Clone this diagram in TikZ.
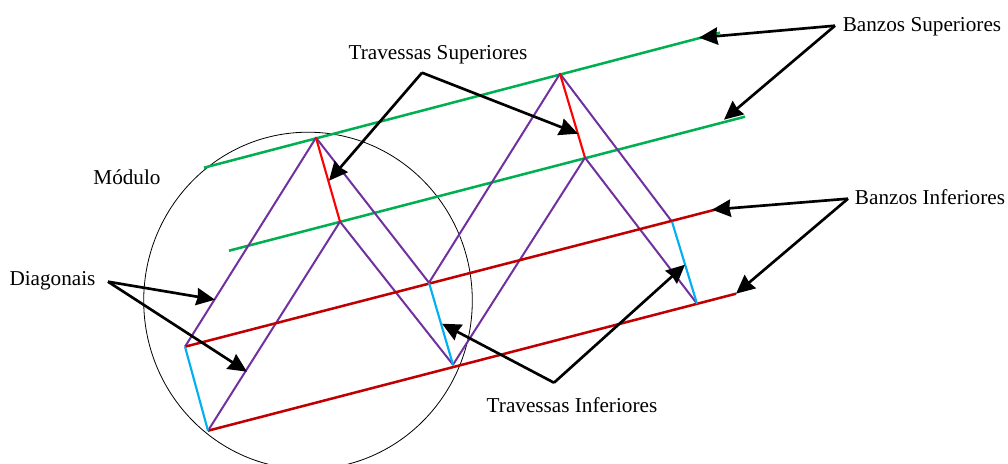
\documentclass[tikz,border=0pt]{standalone}
\usepackage{fontspec}
\setmainfont{Liberation Serif}
\usepackage{xcolor}
\definecolor{banzosup}{HTML}{00B050}
\definecolor{banzoinf}{HTML}{C00000}
\definecolor{travsup}{HTML}{FF0000}
\definecolor{travinf}{HTML}{00B0F0}
\definecolor{diagonal}{HTML}{7030A0}
\usetikzlibrary{positioning,arrows.meta}
\tikzset{
  rotulo/.style={font=\fontsize{15.9}{18}\selectfont, inner sep=0pt},
  seta/.style={-{Stealth[length=14pt,width=13pt,inset=1pt]}, line width=2pt, black, line join=miter},
  banzosupbar/.style={draw=banzosup, line width=1.9pt},
  banzoinfbar/.style={draw=banzoinf, line width=1.9pt},
  travsupbar/.style={draw=travsup, line width=1.6pt},
  travinfbar/.style={draw=travinf, line width=1.6pt},
  diagbar/.style={draw=diagonal, line width=1.5pt}
}

\begin{document}
\begin{tikzpicture}[x=0.75pt,y=-0.75pt]
  \useasboundingbox (0,-0.7) rectangle (1008,463.3);
  % joints
  \coordinate (a1) at (316,137);
  \coordinate (a2) at (560,73);
  \coordinate (b1) at (340,221);
  \coordinate (b2) at (585,157);
  \coordinate (c1) at (185,346);
  \coordinate (c2) at (429,282);
  \coordinate (c3) at (672,221);
  \coordinate (d1) at (208,430);
  \coordinate (d2) at (453,364);
  \coordinate (d3) at (697,303);
  % chord ends
  \coordinate (gs1) at (204,167);
  \coordinate (gs2) at (720,32);
  \coordinate (gi1) at (229,250);
  \coordinate (gi2) at (745,116);
  \coordinate (rs2) at (715,209);
  \coordinate (ri2) at (736,293);
  % module
  \draw[line width=0.6pt] (308,300) ellipse [x radius=164.3, y radius=168.5];
  % chords
  \draw[banzosupbar] (gs1) -- (gs2);
  \draw[banzosupbar] (gi1) -- (gi2);
  % diagonals
  \draw[diagbar, line join=round] (c1) -- (a1) -- (c2) -- (a2) -- (c3);
  \draw[diagbar, line join=round] (d1) -- (b1) -- (d2) -- (b2) -- (d3);
  \draw[banzoinfbar] (c1) -- (rs2);
  \draw[banzoinfbar] (d1) -- (ri2);
  % cross members
  \draw[travsupbar] (a1) -- (b1);
  \draw[travsupbar] (a2) -- (b2);
  \draw[travinfbar] (c1) -- (d1);
  \draw[travinfbar] (c2) -- (d2);
  \draw[travinfbar] (c3) -- (d3);
  % labels
  \node[rotulo] (modulo) at (127,177) {Módulo};
  \node[rotulo] (diagonais) at (52.5,280) {Diagonais};
  \node[rotulo] (travsuplbl) at (438,54) {Travessas Superiores};
  \node[rotulo] (banzsuplbl) at (922,26) {Banzos Superiores};
  \node[rotulo] (banzinflbl) at (930,196.5) {Banzos Inferiores};
  \node[rotulo] (travinflbl) at (572,404) {Travessas Inferiores};
  % pointers
  \coordinate (vdiag) at (108,281);
  \coordinate (vtsup) at (422,72);
  \coordinate (vbsup) at (835,25);
  \coordinate (vbinf) at (848,198);
  \coordinate (vtinf) at (554,382);
  \coordinate (pd1) at (215,299);
  \coordinate (pd2) at (247,371);
  \coordinate (pts1) at (329,180);
  \coordinate (pts2) at (578,133);
  \coordinate (pbs1) at (699,37);
  \coordinate (pbs2) at (724,119);
  \coordinate (pbi1) at (712,209);
  \coordinate (pbi2) at (736,293);
  \coordinate (pti1) at (442,323);
  \coordinate (pti2) at (685,264);
  \draw[seta] (vdiag) -- (pd1);
  \draw[seta] (vdiag) -- (pd2);
  \draw[seta] (vtsup) -- (pts1);
  \draw[seta] (vtsup) -- (pts2);
  \draw[seta] (vbsup) -- (pbs1);
  \draw[seta] (vbsup) -- (pbs2);
  \draw[seta] (vbinf) -- (pbi1);
  \draw[seta] (vbinf) -- (pbi2);
  \draw[seta] (vtinf) -- (pti1);
  \draw[seta] (vtinf) -- (pti2);
\end{tikzpicture}
\end{document}
